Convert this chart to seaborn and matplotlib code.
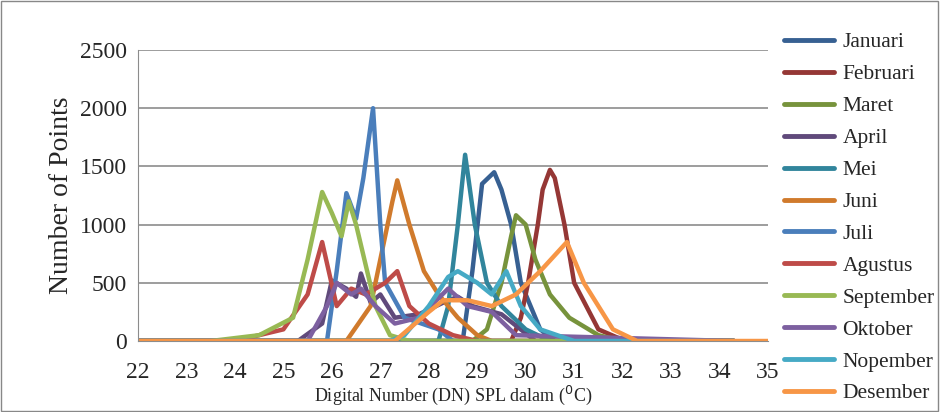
import numpy as np
import pandas as pd
import seaborn as sns
import matplotlib.pyplot as plt

sns.set_style("white")
plt.rcParams['font.family'] = ['Liberation Serif', 'DejaVu Serif']

months = ['Januari', 'Februari', 'Maret', 'April', 'Mei', 'Juni', 'Juli',
          'Agustus', 'September', 'Oktober', 'Nopember', 'Desember']
colors = ['#376092', '#953735', '#77933c', '#604a7b', '#31859c', '#d07a2c',
          '#4a7ebb', '#be4b48', '#98b954', '#7d60a0', '#46aac5', '#f79646']

# (x, y) knots
jan_x = [22, 28.7, 28.9, 29.1, 29.35, 29.5, 29.7, 29.9, 30.3, 30.6, 34.3]
jan_y = [0, 0, 600, 1350, 1450, 1300, 1000, 500, 100, 0, 0]
feb_x = [22, 29.7, 29.9, 30.05, 30.25, 30.35, 30.5, 30.6, 30.8, 31.0, 31.5, 32.0, 34.3]
feb_y = [0, 0, 200, 500, 1000, 1300, 1470, 1400, 1000, 500, 100, 10, 0]
mar_x = [22, 28.9, 29.2, 29.5, 29.7, 29.8, 30.0, 30.2, 30.5, 30.9, 31.5, 32.0, 34.3]
mar_y = [0, 0, 100, 500, 900, 1080, 1000, 700, 400, 200, 50, 0, 0]
apr_x = [22, 25.3, 25.8, 26.0, 26.3, 26.5, 26.6, 26.8, 27.0, 27.3, 27.8, 28.3, 28.6, 28.9, 29.5, 30.2, 34.3]
apr_y = [0, 0, 150, 520, 450, 380, 580, 330, 400, 200, 230, 330, 380, 300, 230, 0, 0]
mei_x = [22, 28.2, 28.4, 28.6, 28.75, 28.95, 29.2, 29.5, 30.0, 30.5, 34.3]
mei_y = [0, 0, 300, 1000, 1600, 1000, 500, 300, 100, 0, 0]
jun_x = [22, 26.3, 26.8, 27.0, 27.25, 27.35, 27.6, 27.9, 28.2, 28.6, 29.0, 29.3, 34.3]
jun_y = [0, 0, 300, 700, 1200, 1380, 1000, 600, 400, 200, 50, 0, 0]
jul_x = [22, 25.9, 26.1, 26.3, 26.5, 26.65, 26.85, 27.0, 27.1, 27.5, 28.2, 28.5, 34.3]
jul_y = [0, 0, 600, 1270, 1050, 1400, 2000, 1000, 500, 200, 100, 0, 0]
agu_x = [22, 24.0, 25.0, 25.5, 25.8, 26.1, 26.4, 26.7, 27.1, 27.35, 27.6, 28.0, 28.5, 29.0, 34.3]
agu_y = [0, 0, 100, 400, 850, 300, 450, 400, 500, 600, 300, 150, 50, 0, 0]
sep_x = [22, 23.5, 24.5, 25.2, 25.5, 25.8, 26.0, 26.2, 26.35, 26.5, 26.9, 27.2, 27.6, 34.3]
sep_y = [0, 0, 50, 200, 700, 1280, 1100, 900, 1200, 1000, 300, 50, 0, 0]
okt_x = [22, 25.5, 25.9, 26.1, 26.4, 26.6, 26.9, 27.3, 27.8, 28.4, 28.8, 29.3, 29.8, 34.3]
okt_y = [0, 0, 300, 500, 400, 450, 300, 150, 200, 450, 300, 250, 50, 0]
nop_x = [22, 27.2, 27.5, 28.0, 28.4, 28.6, 29.0, 29.3, 29.6, 29.9, 30.3, 31.0, 34.3]
nop_y = [0, 0, 50, 300, 550, 600, 500, 400, 600, 300, 100, 0, 0]
des_x = [22, 27.3, 28.0, 28.3, 28.8, 29.3, 29.8, 30.3, 30.85, 31.2, 31.8, 32.3, 35]
des_y = [0, 0, 250, 350, 350, 300, 400, 600, 850, 500, 100, 0, 0]

series_x = [jan_x, feb_x, mar_x, apr_x, mei_x, jun_x, jul_x, agu_x, sep_x, okt_x, nop_x, des_x]
series_y = [jan_y, feb_y, mar_y, apr_y, mei_y, jun_y, jul_y, agu_y, sep_y, okt_y, nop_y, des_y]

rows = []
for m, xs, ys in zip(months, series_x, series_y):
    for x, y in zip(xs, ys):
        rows.append((m, x, y))
df = pd.DataFrame(rows, columns=['month', 'x', 'y'])

fig = plt.figure(figsize=(9.4, 4.12), dpi=100)
ax = fig.add_axes([138 / 940, 1 - 341 / 412, 630 / 940, 291 / 412])
sns.lineplot(data=df, x='x', y='y', hue='month', hue_order=months,
             palette=colors, linewidth=3.2, sort=False, ax=ax)

ax.set_xlim(22, 35)
ax.set_ylim(0, 2500)
ax.set_xticks(range(22, 36))
ax.set_yticks(range(0, 2501, 500))
ax.yaxis.grid(True, color='#8c8c8c', linewidth=1.2)
for s in ['top', 'right']:
    ax.spines[s].set_visible(False)
for s in ['left', 'bottom']:
    ax.spines[s].set_color('#8c8c8c')
ax.tick_params(axis='y', labelsize=17, length=0, pad=8)
ax.tick_params(axis='x', labelsize=17, length=0, pad=15)
ax.set_ylabel('Number of Points', fontsize=20)
ax.set_xlabel('Digital Number (DN) SPL dalam ($^0$C)', fontsize=13, labelpad=1)
leg = ax.legend(loc='upper left', bbox_to_anchor=(1.012, 1.09), frameon=False,
                fontsize=15.5, handlelength=2.3, handletextpad=0.4,
                labelspacing=0.55, borderaxespad=0)
for h in leg.get_lines():
    h.set_linewidth(3.5)
fig.patches.append(plt.Rectangle((0.001, 0.002), 0.997, 0.995, transform=fig.transFigure,
                                 fill=False, edgecolor='#888888', linewidth=1))
fig.savefig('out.png', dpi=100)
